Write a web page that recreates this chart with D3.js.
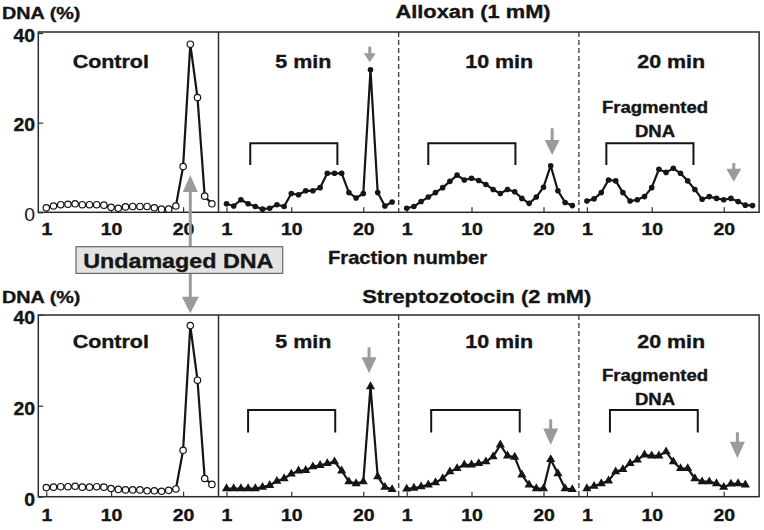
<!DOCTYPE html>
<html>
<head>
<meta charset="utf-8">
<script src="https://cdn.jsdelivr.net/npm/d3@7"></script>
<style>
  body { margin: 0; background: #fff; }
  svg { display: block; font-family: "Liberation Sans", Arial, Helvetica, sans-serif; }
  text { stroke: #151515; stroke-width: 0.35px; }
</style>
</head>
<body>
<div id="chart"></div>
<script>
// ---- data ----
const panels = ["Control", "5 min", "10 min", "20 min"];
const treatments = ["Alloxan (1 mM)", "Streptozotocin (2 mM)"];
const xTicks = [1, 10, 20];
const yTicks = [0, 20, 40];

// DNA (%) per fraction, fraction number = index + 1
const alloxanControl = [1.0, 1.4, 1.7, 1.8, 1.9, 1.7, 1.7, 1.7, 1.6, 1.1, 0.9, 1.2, 1.3, 1.3, 1.3, 1.0, 0.7, 0.7, 1.4, 10.2, 37.5, 25.6, 3.6, 1.9];
const alloxan5 = [1.9, 1.4, 2.8, 1.9, 1.3, 0.7, 0.9, 1.7, 1.3, 4.2, 3.9, 4.8, 4.8, 5.5, 8.7, 8.7, 8.7, 4.4, 3.2, 4.2, 31.8, 4.4, 1.4, 2.3];
const alloxan10 = [0.9, 1.3, 2.4, 3.4, 4.4, 5.5, 6.9, 8.3, 7.2, 7.6, 7.1, 6.2, 5.1, 4.2, 5.1, 4.6, 3.1, 2.0, 3.4, 5.6, 10.4, 4.8, 2.2, 1.5];
const alloxan20 = [2.5, 3.0, 4.4, 7.2, 7.0, 4.4, 2.5, 2.8, 3.5, 5.5, 9.6, 8.9, 9.8, 8.7, 7.0, 5.1, 2.9, 3.5, 3.1, 2.8, 3.1, 2.4, 1.6, 1.5];

const streptoControl = [2.0, 2.1, 2.2, 2.2, 2.3, 2.1, 2.1, 2.2, 2.1, 1.8, 1.6, 1.5, 1.5, 1.5, 1.3, 1.3, 1.2, 1.4, 1.7, 10.2, 37.6, 25.6, 4.0, 2.7];
const strepto5 = [1.8, 1.8, 1.8, 1.8, 1.8, 2.1, 2.5, 3.4, 4.0, 5.0, 5.7, 5.8, 6.6, 6.9, 7.3, 7.7, 5.7, 3.3, 2.9, 3.3, 24.2, 4.4, 2.1, 1.6];
const strepto10 = [1.7, 1.9, 2.2, 2.6, 3.1, 4.0, 5.5, 6.2, 7.0, 7.0, 7.3, 7.7, 8.8, 11.4, 9.0, 8.7, 4.8, 2.6, 1.8, 1.8, 8.2, 5.1, 1.8, 1.6];
const strepto20 = [1.8, 2.3, 2.9, 3.5, 5.5, 6.0, 7.3, 8.1, 9.2, 9.0, 9.0, 9.9, 7.7, 6.2, 6.2, 4.0, 3.3, 3.3, 2.9, 2.1, 2.8, 2.9, 2.6];

// fragmented DNA brackets (fraction from, to) for 5/10/20 min
const alloxanBrackets = [[4.3, 16.4], [4.0, 16.1], [3.7, 15.8]];
const streptoBrackets = [[4.0, 16.1], [4.4, 16.7], [4.2, 16.4]];
// undamaged DNA position arrows (fraction) for 5/10/20 min
const alloxanArrows = [20.9, 21.2, 21.4];
const streptoArrows = [20.8, 21.0, 21.9];

// ---- layout ----
const W = 764, H = 530;
const INK = "#151515", GREY = "#9b9b9b";
const SX = 1.16; // glyphs in the figure are a bit wide
const left0 = 38.3, panelW = 180.2;

const rows = [
  { title: treatments[0], titleX: 473, titleY: 18.3, top: 32, y0: 212.3, y40: 33,
    series: [alloxanControl, alloxan5, alloxan10, alloxan20], marker: "dot",
    brackets: alloxanBrackets, arrows: alloxanArrows,
    arrowTip: [62.3, 155, 181.7], arrowLen: [15.6, 26.7, 18.7], arrowHead: [9, 15, 13],
    bracketTop: 143.3, bracketEnd: 165, labelY: 68.3, tickPad: 11, fragY: [113.3, 137.3], zeroWeight: "normal" },
  { title: treatments[1], titleX: 476.7, titleY: 303.3, top: 315, y0: 496.7, y40: 314.7,
    series: [streptoControl, strepto5, strepto10, strepto20], marker: "tri",
    brackets: streptoBrackets, arrows: streptoArrows,
    arrowTip: [373.3, 445, 458.3], arrowLen: [26, 25.7, 26], arrowHead: [16, 16.5, 16.5],
    bracketTop: 410, bracketEnd: 432.5, labelY: 348.3, tickPad: 13, fragY: [381, 405], zeroWeight: "bold" }
];
const labelDx = [-17.6, -5.3, 10.4, 2.2];

const svg = d3.select("#chart").append("svg")
  .attr("width", W).attr("height", H)
  .attr("viewBox", `0 0 ${W} ${H}`);

function txt(parent, x, y, s, size, o = {}) {
  return parent.append("text")
    .attr("transform", `translate(${x},${y}) scale(${o.sx ?? SX},1)`)
    .attr("text-anchor", o.anchor || "middle")
    .attr("font-size", size)
    .attr("font-weight", o.weight || "bold")
    .attr("fill", INK)
    .text(s);
}

function downArrow(g, x, tip, len, head, w) {
  g.append("line")
    .attr("x1", x).attr("x2", x)
    .attr("y1", tip - len).attr("y2", tip - head + 1)
    .attr("stroke", GREY).attr("stroke-width", 3);
  g.append("path")
    .attr("d", `M${x - w / 2},${tip - head} L${x + w / 2},${tip - head} L${x},${tip} Z`)
    .attr("fill", GREY);
}

const line = d3.line();

rows.forEach((row) => {
  const g = svg.append("g");
  const right = left0 + panelW * 4;
  const y = d3.scaleLinear().domain([0, 40]).range([row.y0, row.y40]);

  // frame
  g.append("rect")
    .attr("x", left0).attr("y", row.top)
    .attr("width", right - left0).attr("height", row.y0 - row.top)
    .attr("fill", "none").attr("stroke", "#2a2a2a").attr("stroke-width", 1.5);

  panels.forEach((name, i) => {
    const left = left0 + panelW * i;
    const x = d3.scaleLinear().domain([1, 20]).range([left + 8, left + 8 + 19 * 7.2]);

    if (i > 0) {
      g.append("line")
        .attr("x1", left).attr("x2", left)
        .attr("y1", row.top).attr("y2", row.y0)
        .attr("stroke", "#2a2a2a").attr("stroke-width", i === 1 ? 1.5 : 1.2)
        .attr("stroke-dasharray", i === 1 ? null : "5,3");
    }

    // x axis
    const ax = g.append("g")
      .attr("transform", `translate(0,${row.y0})`)
      .call(d3.axisBottom(x).tickValues(xTicks).tickSize(-5).tickPadding(row.tickPad));
    ax.select(".domain").remove();
    ax.selectAll("line").attr("stroke", "#333").attr("stroke-width", 1.2);
    ax.selectAll("text")
      .attr("fill", INK).attr("font-size", 16.5).attr("font-weight", "bold")
      .attr("font-family", null)
      .attr("transform", "scale(1.18,1)");

    // y axis on control panel
    if (i === 0) {
      const ay = g.append("g")
        .attr("transform", `translate(${left},0)`)
        .call(d3.axisLeft(y).tickValues(yTicks).tickSize(-5).tickPadding(3));
      ay.select(".domain").remove();
      ay.selectAll("line").attr("stroke", "#333").attr("stroke-width", 1.2);
      ay.selectAll("text")
        .attr("fill", INK).attr("font-size", 18.5)
        .attr("font-weight", (d) => (d === 0 ? row.zeroWeight : "bold"))
        .style("stroke-width", (d) => (d === 0 && row.zeroWeight === "normal" ? "0px" : null))
        .attr("font-family", null)
        .attr("dy", "0.45em")
        .attr("transform", "scale(1.05,1)");
    }

    // brackets + arrows (treated panels)
    if (i > 0) {
      const [f1, f2] = row.brackets[i - 1];
      g.append("path")
        .attr("d", `M${x(f1)},${row.bracketEnd} V${row.bracketTop} H${x(f2)} V${row.bracketEnd}`)
        .attr("fill", "none").attr("stroke", INK).attr("stroke-width", 2);
      downArrow(g, x(row.arrows[i - 1]), row.arrowTip[i - 1], row.arrowLen[i - 1], row.arrowHead[i - 1], i === 1 && row.marker === "dot" ? 12 : 15);
    }

    // series
    const vals = row.series[i];
    const pts = vals.map((v, k) => [x(k + 1), y(v)]);
    g.append("path")
      .attr("d", line(pts))
      .attr("fill", "none").attr("stroke", INK)
      .attr("stroke-width", 2.2).attr("stroke-linejoin", "round");

    if (i === 0) {
      g.selectAll(null).data(pts).enter().append("circle")
        .attr("cx", (d) => d[0]).attr("cy", (d) => d[1]).attr("r", 3.2)
        .attr("fill", "#fff").attr("stroke", INK).attr("stroke-width", 1.2);
    } else if (row.marker === "dot") {
      g.selectAll(null).data(pts).enter().append("circle")
        .attr("cx", (d) => d[0]).attr("cy", (d) => d[1]).attr("r", 2.8)
        .attr("fill", INK);
    } else {
      g.selectAll(null).data(pts).enter().append("path")
        .attr("transform", (d) => `translate(${d[0]},${d[1]})`)
        .attr("d", d3.symbol(d3.symbolTriangle, 36))
        .attr("fill", INK);
    }

    txt(g, left + panelW / 2 + labelDx[i], row.labelY, name, 18.5);
    if (i === 3) {
      txt(g, left + panelW / 2 - 14, row.fragY[0], "Fragmented", 16);
      txt(g, left + panelW / 2 - 14, row.fragY[1], "DNA", 16);
    }
  });

  txt(g, row.titleX, row.titleY, row.title, 18.5, { sx: 1.18 });
  txt(g, 2, row.titleY + (row === rows[0] ? 0.7 : 0), "DNA (%)", 16.5, { anchor: "start", sx: 1.2 });
});

// undamaged DNA marker: double arrow through the label box
const xc = d3.scaleLinear().domain([1, 20]).range([left0 + 8, left0 + 8 + 19 * 7.2]);
const ax0 = xc(21);
svg.append("line")
  .attr("x1", ax0).attr("x2", ax0).attr("y1", 190).attr("y2", 298)
  .attr("stroke", GREY).attr("stroke-width", 3);
svg.append("path")
  .attr("d", `M${ax0 - 7.5},192 L${ax0 + 7.5},192 L${ax0},175 Z`).attr("fill", GREY);
svg.append("path")
  .attr("d", `M${ax0 - 8.5},296.7 L${ax0 + 8.5},296.7 L${ax0},313.3 Z`).attr("fill", GREY);
svg.append("rect")
  .attr("x", 76).attr("y", 246.7).attr("width", 206.7).attr("height", 26.7)
  .attr("fill", "#e3e3e3").attr("stroke", "#666").attr("stroke-width", 1.2);
txt(svg, 178.3, 268.3, "Undamaged DNA", 21, { sx: 1.11 });

txt(svg, 407.5, 264, "Fraction number", 18, { sx: 1.12 });
</script>
</body>
</html>
